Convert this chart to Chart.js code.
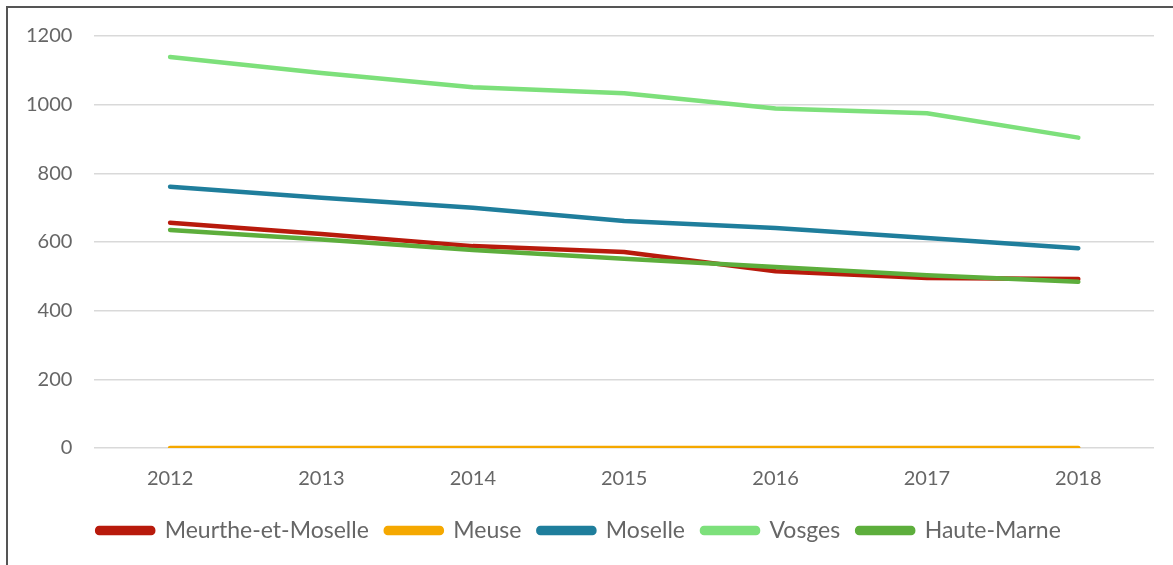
<!DOCTYPE html>
<html>
<head>
<meta charset="utf-8">
<script src="https://cdn.jsdelivr.net/npm/chart.js@4.4.0/dist/chart.umd.min.js"></script>
<style>
  html, body { margin: 0; padding: 0; background: #fff; }
  #wrap { position: relative; width: 1173px; height: 565px; overflow: hidden; }
  #frame { position: absolute; left: 6px; top: 6px; width: 1200px; height: 600px;
           border-left: 2px solid #555; border-top: 2px solid #555; }
  canvas { position: absolute; left: 0; top: 0; }
</style>
</head>
<body>
<div id="wrap">
  <div id="frame"></div>
  <canvas id="chart" width="1173" height="565"></canvas>
</div>
<script>
// years on the x axis
const years = ["2012", "2013", "2014", "2015", "2016", "2017", "2018"];
const yTicks = [0, 200, 400, 600, 800, 1000, 1200];

// values
const meurthe = [656, 623, 588, 571, 515, 495, 492];
const meuse = [0, 0, 0, 0, 0, 0, 0];
const moselle = [761, 729, 700, 661, 641, 612, 582];
const vosges = [1139, 1092, 1051, 1033, 989, 975, 904];
const hauteMarne = [635, 607, 577, 551, 527, 503, 484];

const names = ["Meurthe-et-Moselle", "Meuse", "Moselle", "Vosges", "Haute-Marne"];
const colors = ["#B81A0C", "#F5A800", "#1F7E9C", "#7DE07B", "#5DAE3C"];
const series = [meurthe, meuse, moselle, vosges, hauteMarne];

const fontName = "Lato, 'Open Sans', sans-serif";
const textColor = "#666666";

let datasets = series.map(function (vals, i) {
    return {
        label: names[i],
        data: vals,
        borderColor: colors[i],
        backgroundColor: colors[i],
        borderWidth: 4.5,
        borderCapStyle: "round",
        borderJoinStyle: "round",
        pointRadius: 0,
        tension: 0,
        fill: false,
        order: i == 4 ? 0 : 1   // haute-marne drawn over the red line
    };
});

new Chart(document.getElementById("chart").getContext("2d"), {
    type: "line",
    data: { labels: years, datasets: datasets },
    options: {
        responsive: false,
        animation: false,
        layout: { padding: { left: 4, right: 19, top: 36, bottom: 13 } },
        scales: {
            x: {
                offset: true,
                grid: { display: false },
                border: { display: false },
                ticks: { color: textColor, font: { family: fontName, size: 20 }, padding: 11 }
            },
            y: {
                min: 0,
                max: 1200,
                afterBuildTicks: function (axis) {
                    axis.ticks = yTicks.map(function (v) { return { value: v }; });
                },
                grid: { color: "#d9d9d9", lineWidth: 1.5, drawTicks: false },
                border: { display: false },
                ticks: {
                    color: textColor, font: { family: fontName, size: 20 }, padding: 22,
                    callback: function (v) { return String(v); }
                }
            }
        },
        plugins: {
            tooltip: { enabled: false },
            legend: {
                position: "bottom",
                labels: {
                    color: textColor,
                    font: { family: fontName, size: 23 },
                    boxWidth: 56,
                    boxHeight: 5,
                    padding: 17,
                    useBorderRadius: true,
                    borderRadius: 2,
                    sort: function (a, b) { return a.datasetIndex - b.datasetIndex; }
                }
            }
        }
    }
});
</script>
</body>
</html>
